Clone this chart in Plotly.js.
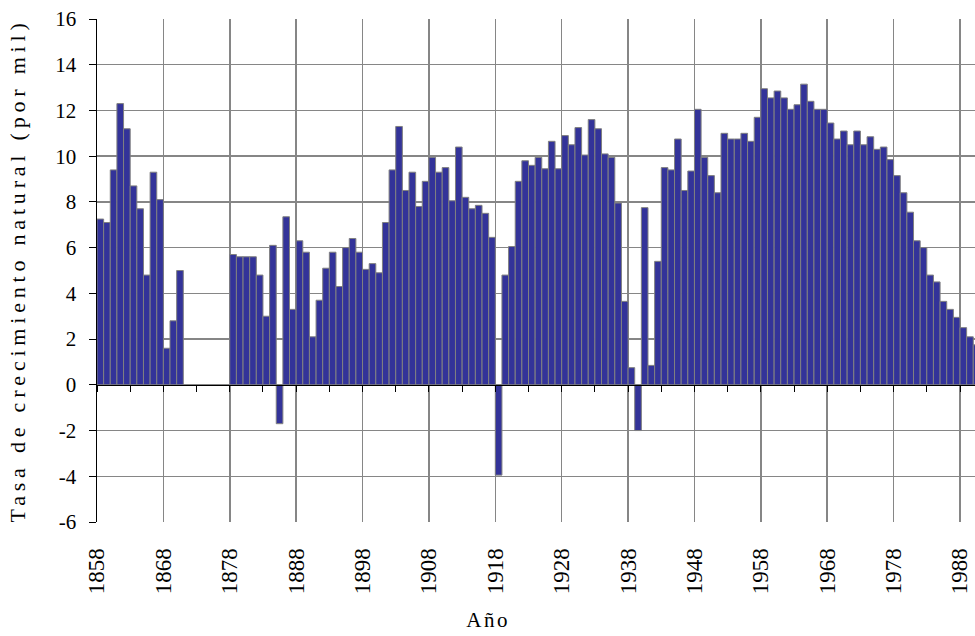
<!DOCTYPE html>
<html>
<head>
<meta charset="utf-8">
<script src="https://cdn.plot.ly/plotly-3.0.1.min.js"></script>
<style>
  html, body { margin: 0; padding: 0; background: #fff; }
  #chart { width: 975px; height: 636px; }
  #chart .ytitle { letter-spacing: 4.8px; }
  #chart .annotation-text { letter-spacing: 2.5px; }
</style>
</head>
<body>
<div id="chart"></div>
<script>
const years = [
  1858,1859,1860,1861,1862,1863,1864,1865,1866,1867,1868,1869,1870,1871,1872,1873,1874,1875,1876,1877,
  1878,1879,1880,1881,1882,1883,1884,1885,1886,1887,1888,1889,1890,1891,1892,1893,1894,1895,1896,1897,
  1898,1899,1900,1901,1902,1903,1904,1905,1906,1907,1908,1909,1910,1911,1912,1913,1914,1915,1916,1917,
  1918,1919,1920,1921,1922,1923,1924,1925,1926,1927,1928,1929,1930,1931,1932,1933,1934,1935,1936,1937,
  1938,1939,1940,1941,1942,1943,1944,1945,1946,1947,1948,1949,1950,1951,1952,1953,1954,1955,1956,1957,
  1958,1959,1960,1961,1962,1963,1964,1965,1966,1967,1968,1969,1970,1971,1972,1973,1974,1975,1976,1977,
  1978,1979,1980,1981,1982,1983,1984,1985,1986,1987,1988,1989,1990
];

const tasa = [
  7.25,7.1,9.4,12.3,11.2,8.7,7.7,4.8,9.3,8.1,1.6,2.8,5.0,null,null,null,null,null,null,null,
  5.7,5.6,5.6,5.6,4.8,3.0,6.1,-1.7,7.35,3.3,6.3,5.8,2.1,3.7,5.1,5.8,4.3,6.0,6.4,5.8,
  5.05,5.3,4.9,7.1,9.4,11.3,8.5,9.3,7.8,8.9,9.95,9.3,9.5,8.05,10.4,8.2,7.7,7.85,7.5,6.45,
  -3.95,4.8,6.05,8.9,9.8,9.6,9.95,9.45,10.65,9.45,10.9,10.5,11.25,10.05,11.6,11.2,10.1,9.95,7.95,3.65,
  0.75,-2.0,7.75,0.85,5.4,9.5,9.4,10.75,8.5,9.35,12.05,9.95,9.15,8.4,11.0,10.75,10.75,11.0,10.65,11.7,
  12.95,12.55,12.85,12.55,12.05,12.25,13.15,12.4,12.05,12.05,11.45,10.75,11.1,10.5,11.1,10.5,10.85,10.3,10.4,9.85,
  9.15,8.4,7.55,6.3,6.0,4.8,4.5,3.65,3.3,2.95,2.5,2.1,1.75
];

// labelled decades (label sits on the boundary at the start of that year)
const decadeLabels = ['1858','1868','1878','1888','1898','1908','1918','1928','1938','1948','1958','1968','1978','1988'];
const decadePos = decadeLabels.map(s => Number(s) - 0.5);
// minor tick marks on the zero line every five years
const fiveYearPos = [];
for (let y = 1857.5; y <= 1990; y += 5) fiveYearPos.push(y);

const yTickVals = [-6, -4, -2, 0, 2, 4, 6, 8, 10, 12, 14, 16];
const yTickText = ['-6', '-4', '-2', '0', '2', '4', '6', '8', '10', '12', '14', '16'];

const xTitle = 'Año';
const yTitle = 'Tasa de crecimiento natural (por mil)';

const yMin = -6, yMax = 16;
const xRange = [1857.5, 1989.76];
const serif = 'Liberation Serif';

const W = 975, H = 636;
const M = { l: 97, r: 0, t: 19, b: 114, pad: 0 };
const plotW = W - M.l - M.r, plotH = H - M.t - M.b;

const traces = [
  {
    type: 'bar',
    x: years,
    y: tasa,
    marker: { color: '#333399', line: { color: '#808080', width: 1 } },
    hoverinfo: 'x+y',
    showlegend: false
  },
  {
    type: 'scatter',
    x: [null], y: [null],
    xaxis: 'x2', yaxis: 'y',
    mode: 'markers',
    hoverinfo: 'skip',
    showlegend: false
  }
];

const layout = {
  width: W,
  height: H,
  margin: M,
  paper_bgcolor: '#ffffff',
  plot_bgcolor: '#ffffff',
  bargap: 0,
  font: { family: serif, color: '#000000' },
  xaxis: {
    range: xRange,
    tickmode: 'array',
    tickvals: decadePos,
    ticktext: decadeLabels,
    tickangle: -90,
    ticks: 'outside',
    ticklen: 16,
    tickcolor: 'rgba(0,0,0,0)',
    tickfont: { family: serif, size: 23, color: '#000' },
    showgrid: true,
    gridcolor: '#868686',
    gridwidth: 1.5,
    showline: false,
    zeroline: false,
    fixedrange: true
  },
  xaxis2: {
    overlaying: 'x',
    anchor: 'free',
    position: (0 - yMin) / (yMax - yMin),
    range: xRange,
    tickmode: 'array',
    tickvals: fiveYearPos,
    ticks: 'outside',
    ticklen: 6,
    tickwidth: 1,
    tickcolor: '#000',
    showticklabels: false,
    showgrid: false,
    zeroline: false,
    showline: true,
    linecolor: '#000',
    linewidth: 1.5,
    fixedrange: true
  },
  yaxis: {
    range: [yMin, yMax],
    tickmode: 'array',
    tickvals: yTickVals,
    ticktext: yTickText,
    ticks: 'outside',
    ticklen: 7,
    ticklabelstandoff: 8,
    tickcolor: '#000',
    tickfont: { family: serif, size: 21, color: '#000' },
    showgrid: true,
    gridcolor: '#868686',
    gridwidth: 1.5,
    showline: true,
    linecolor: '#000',
    linewidth: 1.5,
    zeroline: false,
    fixedrange: true,
    title: { text: yTitle, font: { family: serif, size: 22, color: '#000' }, standoff: 23 }
  },
  annotations: [
    {
      text: xTitle,
      xref: 'paper', yref: 'paper',
      x: (W / 2 - M.l) / plotW,
      y: -(620 - (H - M.b)) / plotH,
      xanchor: 'center', yanchor: 'middle',
      borderpad: 0,
      showarrow: false,
      font: { family: serif, size: 21, color: '#000' }
    }
  ]
};

Plotly.newPlot('chart', traces, layout, { displayModeBar: false, staticPlot: true });
</script>
</body>
</html>
